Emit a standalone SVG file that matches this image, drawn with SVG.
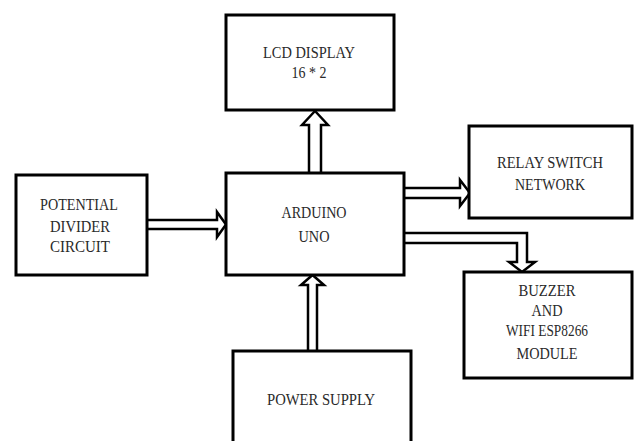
<svg xmlns="http://www.w3.org/2000/svg" width="635" height="441" viewBox="0 0 635 441">
<style>
.box{fill:#fff;stroke:#000;stroke-width:3}
.arr{fill:#fff;stroke:#000;stroke-width:2.5;stroke-linejoin:miter}
.t{font-family:"Liberation Serif","Times New Roman",serif;font-size:17px;fill:#2a2a2a;text-anchor:middle}
</style>
<rect width="635" height="441" fill="#fff"/>
<g id="connectors">
<path class="arr" d="M147,220 L217,220 L217,212 L226,224.5 L217,237 L217,229 L147,229"/>
<path class="arr" d="M309,173 L309,125 L302,125 L315,111 L328,125 L321,125 L321,173"/>
<path class="arr" d="M404,188 L460,188 L460,180 L470,193 L460,206 L460,198 L404,198"/>
<path class="arr" d="M404,233 L527,233 L527,262 L535,262 L522,272 L509,262 L517,262 L517,243 L404,243"/>
<path class="arr" d="M308,351 L308,285 L301,285 L312.5,275 L324,285 L317,285 L317,351"/>
</g>
<g id="lcd">
<rect class="box" x="226" y="15" width="168" height="95"/>
<text class="t" x="309" y="58" textLength="92" lengthAdjust="spacingAndGlyphs">LCD DISPLAY</text>
<text class="t" x="309" y="78" textLength="35" lengthAdjust="spacingAndGlyphs">16 * 2</text>
</g>
<g id="potential">
<rect class="box" x="16" y="175" width="131" height="100"/>
<text class="t" x="79" y="210" textLength="78" lengthAdjust="spacingAndGlyphs">POTENTIAL</text>
<text class="t" x="80" y="232" textLength="60" lengthAdjust="spacingAndGlyphs">DIVIDER</text>
<text class="t" x="80" y="252" textLength="60" lengthAdjust="spacingAndGlyphs">CIRCUIT</text>
</g>
<g id="arduino">
<rect class="box" x="226" y="173" width="178" height="102"/>
<text class="t" x="314" y="218" textLength="65" lengthAdjust="spacingAndGlyphs">ARDUINO</text>
<text class="t" x="314" y="242" textLength="31" lengthAdjust="spacingAndGlyphs">UNO</text>
</g>
<g id="relay">
<rect class="box" x="469" y="126" width="163" height="92"/>
<text class="t" x="550" y="168" textLength="106" lengthAdjust="spacingAndGlyphs">RELAY SWITCH</text>
<text class="t" x="550" y="190" textLength="70" lengthAdjust="spacingAndGlyphs">NETWORK</text>
</g>
<g id="buzzer">
<rect class="box" x="464" y="272" width="168" height="106"/>
<text class="t" x="547" y="296" textLength="57" lengthAdjust="spacingAndGlyphs">BUZZER</text>
<text class="t" x="547" y="316" textLength="31" lengthAdjust="spacingAndGlyphs">AND</text>
<text class="t" x="547" y="336" textLength="82" lengthAdjust="spacingAndGlyphs">WIFI ESP8266</text>
<text class="t" x="547" y="359" textLength="61" lengthAdjust="spacingAndGlyphs">MODULE</text>
</g>
<g id="power">
<rect class="box" x="233" y="351" width="178" height="100"/>
<text class="t" x="321" y="405" textLength="108" lengthAdjust="spacingAndGlyphs">POWER SUPPLY</text>
</g>
</svg>
